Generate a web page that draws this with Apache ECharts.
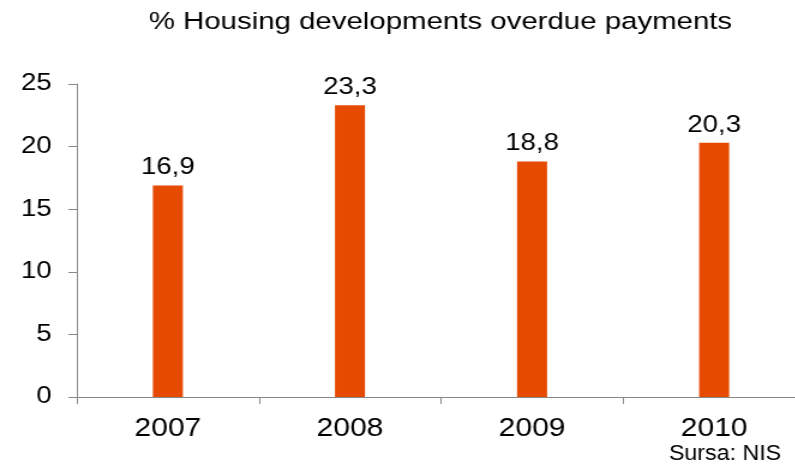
<!DOCTYPE html>
<html>
<head>
  <meta charset="UTF-8" />
  <title>Housing developments overdue payments</title>
  <script src="https://cdn.jsdelivr.net/npm/echarts@6/dist/echarts.min.js"></script>
  <style>
    html, body { margin: 0; height: 100%; background: #fff; overflow: hidden; }
    /* the original picture is stretched sideways about 1.2x; the axis runs past the right edge */
    #chart { width: 672px; height: 465px; transform: scaleX(1.2); transform-origin: 0 0; }
  </style>
</head>
<body>
  <div id="chart"></div>
  <script>
    const years = ['2007', '2008', '2009', '2010'];
    const overdue = [16.9, 23.3, 18.8, 20.3];
    const yTicks = [0, 5, 10, 15, 20, 25];

    const chart = echarts.init(document.getElementById('chart'));
    const font = '"Liberation Sans", Arial, sans-serif';

    chart.setOption({
      backgroundColor: '#fff',
      animation: false,
      title: {
        text: '% Housing developments overdue payments',
        left: 362, top: 5, textAlign: 'center',
        textStyle: { fontFamily: font, fontSize: 24.5, fontWeight: 'normal', color: '#000' }
      },
      graphic: [{
        type: 'text',
        right: 21, top: 443,
        scaleX: 0.88,
        style: { text: 'Sursa: NIS', font: '22px ' + font, fill: '#000' }
      }],
      grid: { left: 64, right: 1, top: 84, bottom: 68 },
      xAxis: {
        type: 'category',
        data: years,
        axisLine: { lineStyle: { color: '#888', width: 1 } },
        axisTick: { show: true, length: 7, lineStyle: { color: '#888' } },
        axisLabel: { color: '#000', fontFamily: font, fontSize: 25, margin: 20 }
      },
      yAxis: {
        type: 'value',
        min: yTicks[0], max: yTicks[yTicks.length - 1], interval: yTicks[1] - yTicks[0],
        axisLine: { show: true, lineStyle: { color: '#888', width: 1 } },
        axisTick: { show: true, length: 7, lineStyle: { color: '#888' } },
        axisLabel: { color: '#000', fontFamily: font, fontSize: 23, margin: 21 },
        splitLine: { show: false }
      },
      series: [{
        type: 'bar',
        data: overdue,
        barWidth: 25,
        itemStyle: { color: '#E64A00' },
        label: {
          show: true, position: 'top', distance: 6,
          color: '#000', fontFamily: font, fontSize: 23,
          formatter: p => String(p.value).replace('.', ',')
        }
      }]
    });
  </script>
</body>
</html>
